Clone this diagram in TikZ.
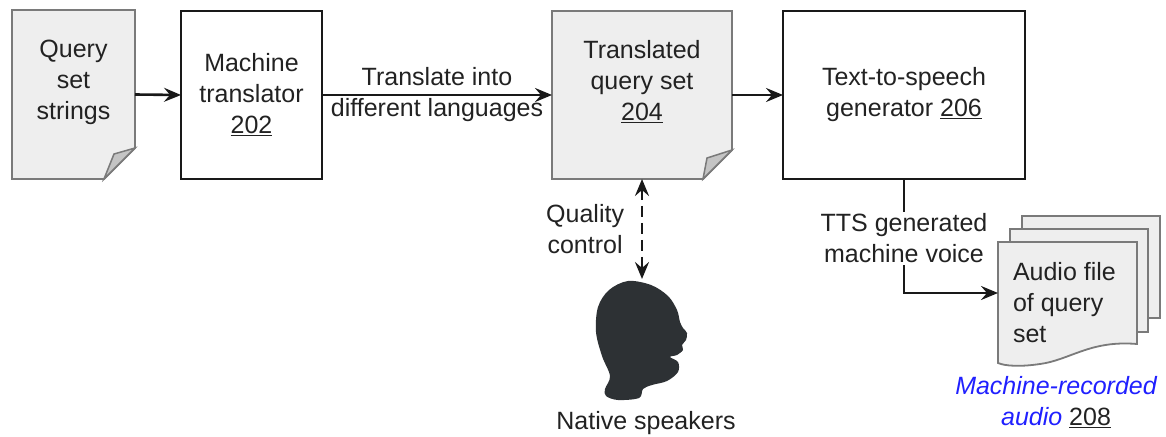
\documentclass[tikz,border=0pt]{standalone}
\usepackage{fontspec}
\setmainfont{Liberation Sans}
\usetikzlibrary{arrows.meta}
\definecolor{docfill}{HTML}{EEEEEE}
\definecolor{docline}{HTML}{7A7A7A}
\definecolor{foldfill}{HTML}{C4C4C4}
\definecolor{txt}{HTML}{222222}
\definecolor{headcol}{HTML}{2D3134}
\definecolor{lblue}{HTML}{2020FF}
\begin{document}
\begin{tikzpicture}[x=1pt,y=-1pt,
  every node/.style={font=\fontsize{25}{31}\selectfont, text=txt, inner sep=0pt, outer sep=0pt},
  procbox/.style={draw=black!90, line width=2.2pt, fill=white, align=center},
  docpath/.style={draw=docline, line width=1.8pt, fill=docfill},
  foldpath/.style={draw=docline, line width=1.5pt, fill=foldfill},
  tip/.style={Stealth[length=17pt,width=14pt,inset=6pt]},
  conn/.style={draw=black!90, line width=2.6pt, -{Stealth[length=17pt,width=14pt,inset=6pt]}},
  dconn/.style={draw=black!90, line width=2.6pt, dash pattern=on 11pt off 6pt, {Stealth[length=17pt,width=14pt,inset=6pt]}-{Stealth[length=17pt,width=14pt,inset=6pt]}},
  lbl/.style={align=center}
]
\useasboundingbox (0,0) rectangle (1166,436);

% Query set strings document
\node[minimum width=123pt, minimum height=169pt] (qs) at (73.5,94.5) {};
\draw[docpath] (qs.north west) -- (qs.north east) -- ([yshift=31pt]qs.south east) -- ([xshift=-31pt]qs.south east) -- (qs.south west) -- cycle;
\draw[foldpath] ([yshift=31pt]qs.south east) -- ([xshift=-21pt,yshift=25pt]qs.south east) -- ([xshift=-31pt]qs.south east) -- cycle;
\node[lbl] (qst) at (73.5,82) {Query\\set\\strings};

% Machine translator
\node[procbox, minimum width=141pt, minimum height=168pt] (mt) at (251.5,95) {Machine\\translator\\\underline{202}};

% Translated query set document
\node[minimum width=180pt, minimum height=168pt] (tq) at (642,95) {};
\draw[docpath] (tq.north west) -- (tq.north east) -- ([yshift=29pt]tq.south east) -- ([xshift=-29pt]tq.south east) -- (tq.south west) -- cycle;
\draw[foldpath] ([yshift=29pt]tq.south east) -- ([xshift=-25pt,yshift=21pt]tq.south east) -- ([xshift=-29pt]tq.south east) -- cycle;
\node[lbl] (tqt) at (642,82) {Translated\\query set\\\underline{204}};

% TTS generator
\node[procbox, minimum width=242pt, minimum height=168pt] (tts) at (904,95) {Text-to-speech\\generator \underline{206}};

% Audio file stack
\node[minimum width=138pt, minimum height=102pt] (af3) at (1091,267) {};
\draw[docpath] (af3.north west) rectangle (af3.south east);
\node[minimum width=138pt, minimum height=103pt] (af2) at (1079,280.5) {};
\draw[docpath] (af2.north west) rectangle (af2.south east);
\node[minimum width=139pt, minimum height=121pt] (af1) at (1067.5,302.5) {};
\draw[docpath] (af1.north west) -- (af1.north east) -- (1137,344)
  .. controls (1090,340) and (1070,360) .. (1040,364)
  .. controls (1020,367) and (1005,366) .. (af1.south west) -- cycle;
\node[align=left, anchor=west] (aft) at (1013,303) {Audio file\\of query\\set};
\node[lbl] (mra) at (1056,402) {\textcolor{lblue}{\itshape Machine-recorded}\\\textcolor{lblue}{\itshape audio} \underline{208}};

% Head
\node[minimum width=92pt, minimum height=120pt] (head) at (642,339) {};
\fill[headcol] plot[smooth cycle, tension=0.55] coordinates {
 (628,281) (651,285) (668,296) (677,310) (680,322) (683,328) (687,333) (686,340)
 (682,345) (683,350) (677,355) (670,357) (678,362) (678,372) (667,381) (652,385)
 (643,389) (639,398) (618,400) (606,396) (605,389) (610,376) (602,356) (596,332)
 (598,307) (609,290)};
\node (ns) at (646,423) {Native speakers};

% Connectors
\draw[conn] (qs.east) -- (mt.west);
\draw[conn] (mt.east) -- node[lbl] (tl) {Translate into\\different languages} (tq.west);
\draw[conn] (tq.east) -- (tts.west);
\draw[dconn] (tq.south) -- node[lbl, anchor=east, xshift=-18pt] (qc) {Quality\\control} (head.north);
\draw[conn] (tts.south) |- node[lbl, pos=0.26, fill=white, inner sep=2pt] (ttsl) {TTS generated\\machine voice} (af1.west |- 0,293);
\end{tikzpicture}
\end{document}
